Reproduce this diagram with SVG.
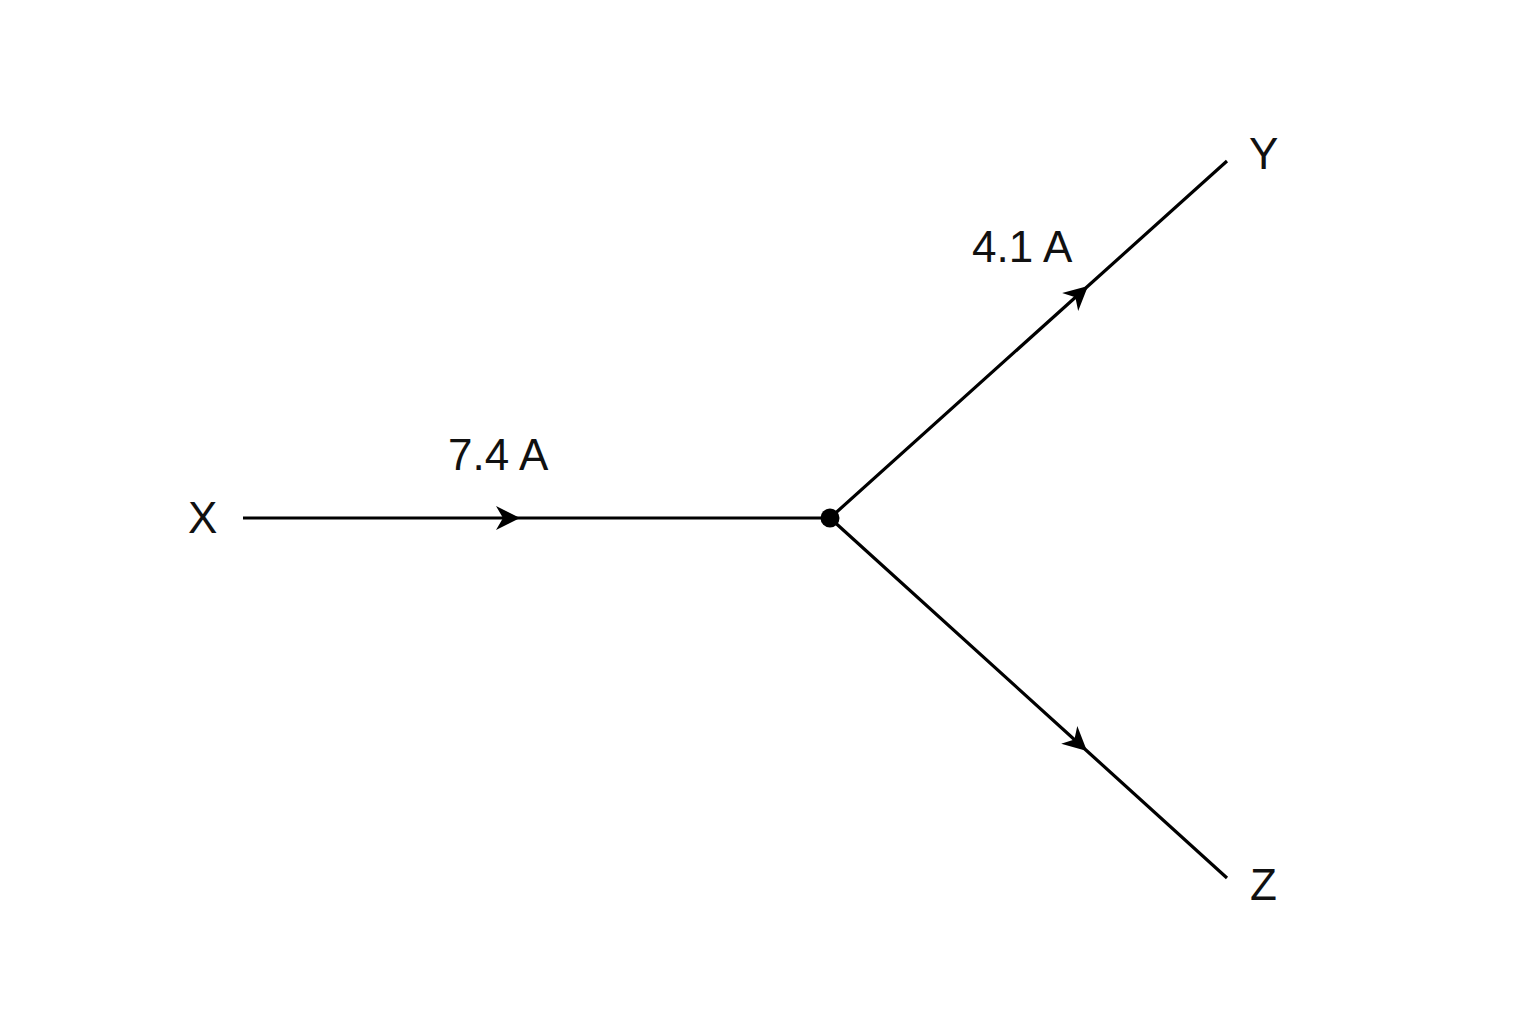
<svg xmlns="http://www.w3.org/2000/svg" width="1536" height="1024" viewBox="0 0 1536 1024">
<style>
.wire{fill:none;stroke:#000;stroke-width:3.2;stroke-linecap:butt}
.lbl{font-family:Arial,"Liberation Sans",Helvetica,sans-serif;font-size:44px;fill:#111}
</style>
<defs>
<marker id="arr" markerUnits="userSpaceOnUse" viewBox="-28 -14 30 28" refX="0" refY="0" markerWidth="30" markerHeight="28" orient="auto">
<path d="M0,0 L-24,-12 L-17,0 L-24,12 Z" fill="#000"/>
</marker>
</defs>
<rect width="1536" height="1024" fill="#fff"/>
<g id="connectors">
<path class="wire" d="M243,518 L520,518 L830,518" marker-mid="url(#arr)"/>
<path class="wire" d="M830,518 L1088,286 L1227,161" marker-mid="url(#arr)"/>
<path class="wire" d="M830,518 L1087,751 L1227,878" marker-mid="url(#arr)"/>
</g>
<g id="junction"><circle cx="830" cy="518" r="9.5" fill="#000"/></g>
<g id="node-X"><text class="lbl" x="188" y="533">X</text></g>
<g id="node-Y"><text class="lbl" x="1249" y="169">Y</text></g>
<g id="node-Z"><text class="lbl" x="1250" y="900">Z</text></g>
<g id="label-xj"><text class="lbl" x="448" y="470">7.4 A</text></g>
<g id="label-jy"><text class="lbl" x="972" y="262">4.1 A</text></g>
</svg>
